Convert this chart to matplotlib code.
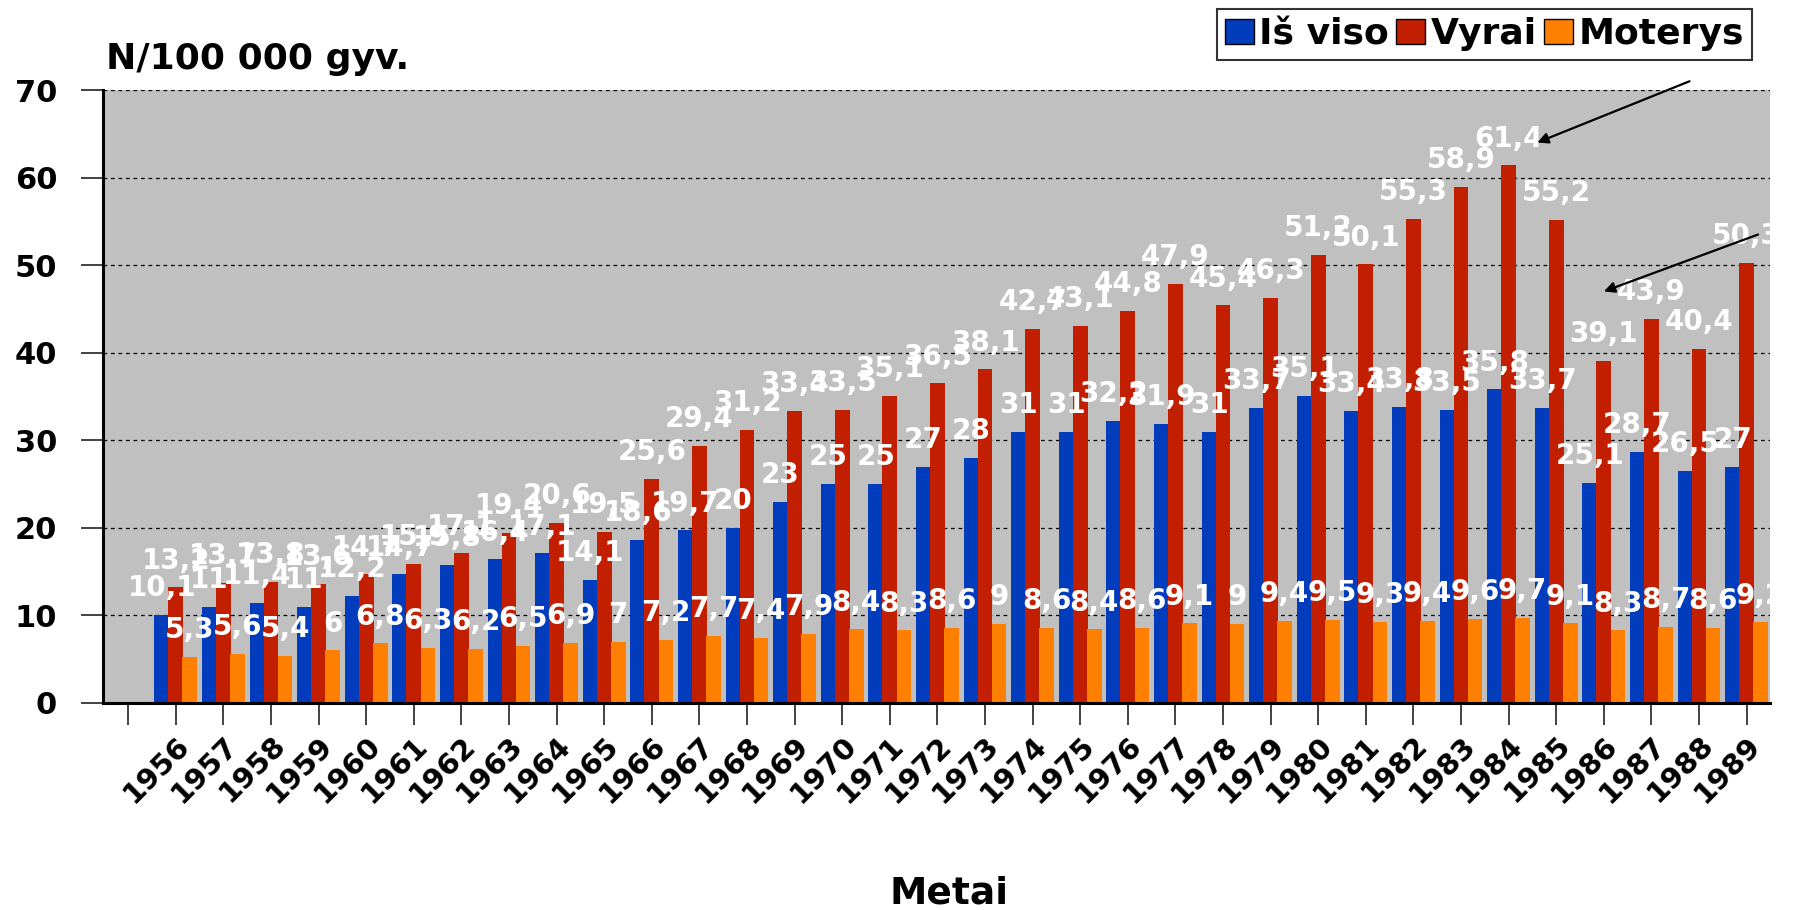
import matplotlib
matplotlib.use("Agg")
import matplotlib.pyplot as plt
from matplotlib.patches import Patch
import numpy as np

years = [str(y) for y in range(1956, 1990)]
total = [10.1, 11, 11.4, 11, 12.2, 14.7, 15.8, 16.4, 17.1, 14.1, 18.6, 19.7, 20, 23,
         25, 25, 27, 28, 31, 31, 32.2, 31.9, 31, 33.7, 35.1, 33.4, 33.8, 33.5, 35.8,
         33.7, 25.1, 28.7, 26.5, 27]
men = [13.2, 13.7, 13.8, 13.6, 14.7, 15.9, 17.1, 19.4, 20.6, 19.5, 25.6, 29.4, 31.2,
       33.4, 33.5, 35.1, 36.5, 38.1, 42.7, 43.1, 44.8, 47.9, 45.4, 46.3, 51.2, 50.1,
       55.3, 58.9, 61.4, 55.2, 39.1, 43.9, 40.4, 50.3]
women = [5.3, 5.6, 5.4, 6, 6.8, 6.3, 6.2, 6.5, 6.9, 7, 7.2, 7.7, 7.4, 7.9, 8.4, 8.3,
         8.6, 9, 8.6, 8.4, 8.6, 9.1, 9, 9.4, 9.5, 9.3, 9.4, 9.6, 9.7, 9.1, 8.3, 8.7,
         8.6, 9.2]
series_names = ["Iš viso", "Vyrai", "Moterys"]
colors = ["#003CBC", "#C21F00", "#FF8000"]

W, H = 1796, 910
fig = plt.figure(figsize=(W / 100, H / 100), dpi=100)
L, R, T, B = 103, 1770, 90, 703
ax = fig.add_axes([L / W, 1 - B / H, (R - L) / W, (B - T) / H])
ax.set_facecolor("#C0C0C0")

x = np.arange(len(years))
bw = 0.31
off = 0.295
ax.bar(x - off, total, bw, color=colors[0], zorder=3, linewidth=0)
ax.bar(x, men, bw, color=colors[1], zorder=3, linewidth=0)
ax.bar(x + off, women, bw, color=colors[2], zorder=3, linewidth=0)

def fmt(v):
    return f"{v:g}".replace(".", ",")

for xs, vals in ((x, men), (x - off, total), (x + off, women)):
    for xi, v in zip(xs, vals):
        ax.annotate(fmt(v), (xi, v), xytext=(0, 13.5), textcoords="offset points",
                    ha="center", va="baseline", color="white", fontsize=20,
                    fontweight="bold", zorder=5, annotation_clip=False)

ax.set_xlim(-1.53, 33.49)
ax.set_ylim(0, 70)
ax.set_yticks(np.arange(0, 71, 10))
ax.set_xticks(np.arange(-1, len(years)))
ax.set_xticklabels([""] + years, rotation=45, ha="right", va="top",
                   rotation_mode="anchor", fontsize=21, fontweight="bold")
for lab in ax.get_yticklabels():
    lab.set_fontsize(22)
    lab.set_fontweight("bold")

ax.yaxis.grid(True, color="black", linestyle=(0, (3, 3)), linewidth=0.9, zorder=1)
ax.set_axisbelow(True)
ax.tick_params(axis="both", direction="out", length=16, width=1.2, color="#222222")
ax.tick_params(axis="y", pad=17)
ax.tick_params(axis="x", pad=4)
for s in ("top", "right"):
    ax.spines[s].set_visible(False)
for s in ("left", "bottom"):
    ax.spines[s].set_linewidth(2.2)
    ax.spines[s].set_zorder(4)

# arrows
ax.annotate("", xy=(28.6, 64.0), xytext=(31.8, 71.0), annotation_clip=False,
            arrowprops=dict(arrowstyle="-|>", color="black", lw=1.6, mutation_scale=16,
                            shrinkA=0, shrinkB=0), zorder=6)
ax.annotate("", xy=(30.0, 47.0), xytext=(33.24, 53.5), annotation_clip=False,
            arrowprops=dict(arrowstyle="-|>", color="black", lw=1.6, mutation_scale=16,
                            shrinkA=0, shrinkB=0), zorder=6)

handles = [Patch(facecolor=c, edgecolor="black", linewidth=1) for c in colors]
leg = fig.legend(handles, series_names, ncol=3, loc="upper right",
                 bbox_to_anchor=(1752 / W, 1 - 9 / H), frameon=True, fancybox=False,
                 edgecolor="black", handlelength=0.8, handleheight=0.7,
                 handletextpad=0.15, columnspacing=0.2, borderpad=0.23,
                 borderaxespad=0, prop=dict(weight="bold", size=26))
leg.get_frame().set_linewidth(1.5)

fig.text(106 / W, 1 - 69 / H, "N/100 000 gyv.", fontsize=26, fontweight="bold",
         ha="left", va="baseline")
fig.text(949 / W, 1 - 903 / H, "Metai", fontsize=27, fontweight="bold",
         ha="center", va="baseline")

fig.savefig("out.png", dpi=100)
